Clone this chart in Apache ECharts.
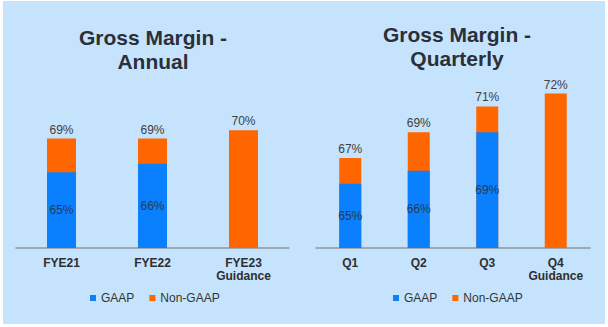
<!DOCTYPE html>
<html>
<head>
<meta charset="utf-8">
<script src="https://cdn.jsdelivr.net/npm/echarts@6/dist/echarts.min.js"></script>
<style>
html,body{margin:0;padding:0;background:#fff;}
#chart{width:608px;height:327px;}
</style>
</head>
<body>
<div id="chart"></div>
<script>
// Data
const annualCategories = ['FYE21', 'FYE22', 'FYE23\nGuidance'];
const annualGaap = [65, 66, null];
const annualNonGaap = [69, 69, 70];

const quarterCategories = ['Q1', 'Q2', 'Q3', 'Q4\nGuidance'];
const quarterGaap = [65, 66, 69, null];
const quarterNonGaap = [67, 69, 71, 72];

const seriesNames = ['GAAP', 'Non-GAAP'];
const titles = ['Gross Margin -\nAnnual', 'Gross Margin -\nQuarterly'];

const FONT = '"Liberation Sans", Arial, sans-serif';
const BLUE = '#0a80ff';
const ORANGE = '#ff6600';

const chart = echarts.init(document.getElementById('chart'), null, {renderer: 'svg'});

function axisX(idx, cats) {
  return {
    type: 'category', gridIndex: idx, data: cats,
    axisLine: {lineStyle: {color: '#8a96a0', width: 1.5}},
    axisTick: {show: false},
    axisLabel: {
      margin: 8, fontFamily: FONT, fontSize: 12, fontWeight: 'bold',
      color: '#2e2e2e', lineHeight: 13, interval: 0
    }
  };
}
function axisY(idx, min, max) {
  return {type: 'value', gridIndex: idx, min: min, max: max, show: false, splitLine: {show: false}};
}
function barPair(idx, nonGaap, gaap, width) {
  return [
    {
      name: seriesNames[1], type: 'bar', xAxisIndex: idx, yAxisIndex: idx,
      data: nonGaap, barWidth: width, barGap: '-100%',
      itemStyle: {color: ORANGE},
      label: {show: true, position: 'top', distance: 3, formatter: '{c}%',
              fontFamily: FONT, fontSize: 12, color: '#404040'}
    },
    {
      name: seriesNames[0], type: 'bar', xAxisIndex: idx, yAxisIndex: idx,
      data: gaap, barWidth: width, barGap: '-100%',
      itemStyle: {color: BLUE},
      label: {show: true, position: 'inside', formatter: '{c}%',
              fontFamily: FONT, fontSize: 12, color: '#263a50'}
    }
  ];
}
function legend(left) {
  return {
    data: seriesNames, left: left, top: 287, padding: 5, icon: 'rect',
    itemWidth: 6, itemHeight: 6, itemGap: 15,
    textStyle: {fontFamily: FONT, fontSize: 12, color: '#333'},
    selectedMode: false
  };
}

chart.setOption({
  backgroundColor: '#ffffff',
  animation: false,
  graphic: [
    {type: 'rect', z: -10, silent: true, shape: {x: 3, y: 1, width: 602, height: 323}, style: {fill: '#c5e3fc'}},
    {type: 'text', silent: true, style: {x: 153, y: 49, text: titles[0], textAlign: 'center', textVerticalAlign: 'middle',
      font: 'bold 21px ' + FONT, lineHeight: 24, fill: '#2b3038'}},
    {type: 'text', silent: true, style: {x: 457, y: 46.5, text: titles[1], textAlign: 'center', textVerticalAlign: 'middle',
      font: 'bold 21px ' + FONT, lineHeight: 24, fill: '#2b3038'}}
  ],
  legend: [legend(85), legend(388)],
  grid: [
    {left: 16, width: 273, top: 46, height: 202},
    {left: 316, width: 274, top: 42, height: 206}
  ],
  xAxis: [axisX(0, annualCategories), axisX(1, quarterCategories)],
  yAxis: [axisY(0, 56, 80), axisY(1, 60, 76)],
  series: [].concat(barPair(0, annualNonGaap, annualGaap, 29), barPair(1, quarterNonGaap, quarterGaap, 22))
});
</script>
</body>
</html>
